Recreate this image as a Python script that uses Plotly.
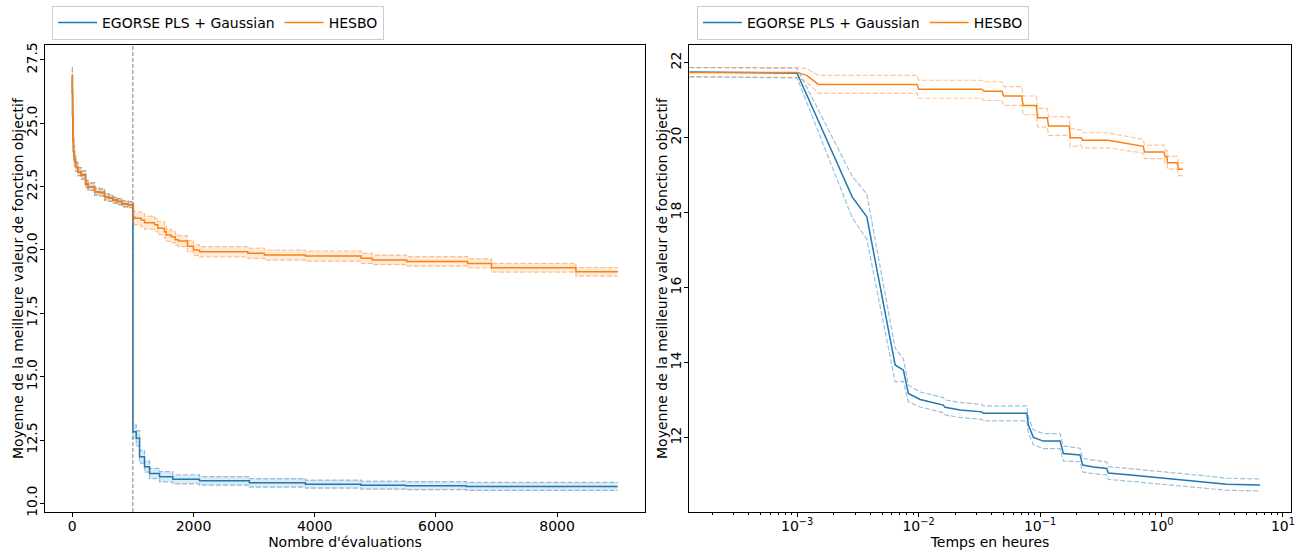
import numpy as np
import plotly.graph_objects as go

BLUE = "#1f77b4"
ORANGE = "#ff7f0e"

# ---------- Left panel: best objective vs number of evaluations ----------
# shared initial design phase (both methods), evaluations 0..~1000
evals_init = [0, 2, 5, 10, 20, 35, 54, 92, 148, 219, 260, 368, 450, 533, 600, 669, 740, 824, 920]
mean_init = [26.9, 26.2, 25.3, 24.4, 23.9, 23.55, 23.29, 23.09, 22.96, 22.6, 22.5, 22.3, 22.27,
             22.1, 22.05, 21.97, 21.91, 21.82, 21.79]
std_init = [0.3, 0.28, 0.26, 0.24, 0.22, 0.2, 0.18, 0.16, 0.16, 0.15, 0.15, 0.14, 0.14,
            0.13, 0.13, 0.12, 0.12, 0.12, 0.12]

egorse_evals = [1000, 1055, 1110, 1192, 1275, 1440, 1659, 2099, 2923, 3847, 4765, 5500, 6500, 9000]
egorse_mean = [12.83, 12.57, 11.84, 11.45, 11.18, 11.05, 10.95, 10.89, 10.81, 10.76, 10.72, 10.70, 10.67, 10.67]
egorse_std = [0.28, 0.3, 0.25, 0.22, 0.2, 0.2, 0.18, 0.17, 0.17, 0.16, 0.16, 0.16, 0.16, 0.16]

hesbo_evals = [1000, 1010, 1028, 1138, 1192, 1357, 1411, 1522, 1550, 1632, 1700, 1750, 1900, 2000,
               2100, 2896, 3171, 3847, 4765, 4950, 5517, 6523, 6918, 8310, 9000]
hesbo_mean = [21.78, 21.3, 21.25, 21.18, 21.08, 21.0, 20.86, 20.72, 20.59, 20.52, 20.4, 20.35, 20.15,
              20.0, 19.93, 19.87, 19.80, 19.76, 19.67, 19.61, 19.55, 19.47, 19.30, 19.14, 19.14]
hesbo_std = [0.12, 0.24, 0.26, 0.26, 0.26, 0.25, 0.25, 0.24, 0.24, 0.23, 0.22, 0.22, 0.22, 0.21,
             0.2, 0.2, 0.2, 0.2, 0.2, 0.19, 0.19, 0.18, 0.17, 0.17, 0.17]

doe_size = 1000

# ---------- Right panel: best objective vs wall time (hours) ----------
egorse_hours = [1.3e-4, 1.0e-3, 2.84e-3, 3.75e-3, 6.41e-3, 7.50e-3, 8.24e-3, 1.03e-2, 1.60e-2, 1.65e-2,
                2.20e-2, 3.31e-2, 3.41e-2, 7.78e-2, 8.02e-2, 8.81e-2, 0.1064, 0.1462, 0.1556, 0.2133,
                0.2244, 0.2748, 0.354, 0.365, 0.586, 1.175, 2.355, 3.443, 6.47]
egorse_tmean = [21.75, 21.72, 18.42, 17.89, 13.94, 13.80, 13.18, 13.02, 12.87, 12.81,
                12.74, 12.69, 12.65, 12.65, 12.34, 12.01, 11.91, 11.91, 11.58, 11.54,
                11.27, 11.22, 11.18, 11.06, 11.0, 10.91, 10.82, 10.76, 10.74]
egorse_tstd = [0.12, 0.13, 0.55, 0.6, 0.45, 0.3, 0.22, 0.2, 0.2, 0.2,
               0.2, 0.2, 0.2, 0.2, 0.2, 0.2, 0.2, 0.2, 0.2, 0.18,
               0.18, 0.18, 0.17, 0.17, 0.17, 0.17, 0.16, 0.16, 0.16]

hesbo_hours = [1.3e-4, 1.0e-3, 1.2e-3, 1.5e-3, 9.73e-3, 1.0e-2, 3.31e-2, 3.47e-2, 4.86e-2, 5.01e-2,
               7.08e-2, 7.24e-2, 9.33e-2, 9.55e-2, 0.1148, 0.1175, 0.1738, 0.1778, 0.2188, 0.2239,
               0.363, 0.708, 0.724, 1.047, 1.072, 1.109, 1.122, 1.349, 1.380, 1.503]
hesbo_tmean = [21.74, 21.74, 21.66, 21.42, 21.42, 21.29, 21.29, 21.24, 21.24, 21.11,
               21.11, 20.86, 20.86, 20.53, 20.53, 20.31, 20.31, 20.0, 20.0, 19.93,
               19.93, 19.77, 19.62, 19.62, 19.49, 19.49, 19.33, 19.33, 19.16, 19.16]
hesbo_tstd = [0.13, 0.13, 0.18, 0.24, 0.24, 0.24, 0.24, 0.25, 0.25, 0.25,
              0.25, 0.25, 0.25, 0.25, 0.25, 0.25, 0.25, 0.25, 0.2, 0.2,
              0.2, 0.18, 0.18, 0.18, 0.17, 0.17, 0.17, 0.17, 0.17, 0.17]

labels = ["EGORSE PLS + Gaussian", "HESBO"]
y_title = "Moyenne de la meilleure valeur de fonction objectif"


def rgba(hex_color, a):
    h = hex_color.lstrip("#")
    r, g, b = int(h[0:2], 16), int(h[2:4], 16), int(h[4:6], 16)
    return f"rgba({r},{g},{b},{a})"


fig = go.Figure()


def add_series(x, mean, std, color, name, xaxis, yaxis, legend, shape, fill):
    mean = np.asarray(mean, float)
    std = np.asarray(std, float)
    band_line = dict(color=rgba(color, 0.45), width=1.2, dash="5px,2px", shape=shape)
    fig.add_trace(go.Scatter(x=x, y=mean + std, mode="lines", line=band_line,
                             showlegend=False, hoverinfo="skip", xaxis=xaxis, yaxis=yaxis))
    fig.add_trace(go.Scatter(x=x, y=mean - std, mode="lines", line=band_line,
                             fill="tonexty" if fill else None,
                             fillcolor=rgba(color, 0.15) if fill else None,
                             showlegend=False, hoverinfo="skip", xaxis=xaxis, yaxis=yaxis))
    fig.add_trace(go.Scatter(x=x, y=mean, mode="lines", name=name,
                             line=dict(color=color, width=1.5, shape=shape),
                             legend=legend, xaxis=xaxis, yaxis=yaxis))


# left panel
add_series(evals_init + egorse_evals, mean_init + egorse_mean, std_init + egorse_std,
           BLUE, labels[0], "x", "y", "legend", "hv", True)
add_series(evals_init + hesbo_evals, mean_init + hesbo_mean, std_init + hesbo_std,
           ORANGE, labels[1], "x", "y", "legend", "hv", True)

# right panel
add_series(egorse_hours, egorse_tmean, egorse_tstd, BLUE, labels[0], "x2", "y2", "legend2", "linear", False)
add_series(hesbo_hours, hesbo_tmean, hesbo_tstd, ORANGE, labels[1], "x2", "y2", "legend2", "linear", False)

# end of initial design of experiments
fig.add_shape(type="line", x0=doe_size, x1=doe_size, y0=0, y1=1, xref="x", yref="y domain",
              line=dict(color="#7f7f7f", width=1, dash="4px,2px"))

font = dict(family="DejaVu Sans", size=14, color="black")
axis_common = dict(showline=True, linecolor="black", linewidth=1, mirror=True, ticks="outside",
                   ticklen=4, tickwidth=1, tickcolor="black", showgrid=False, zeroline=False,
                   automargin=False, tickfont=font, ticklabelstandoff=-3)

minor_vals = [m * 10.0 ** d for d in range(-4, 2) for m in range(2, 10)]

# vertical axis titles
for xpos in (18, 662):
    fig.add_annotation(text=y_title, textangle=-90, x=xpos / 1296, y=(550 - 278) / 550,
                       xref="paper", yref="paper", xanchor="center", yanchor="middle",
                       showarrow=False, font=font)

legend_style = dict(orientation="h", yanchor="top", xanchor="left", y=544 / 550,
                    bgcolor="white", bordercolor="#cccccc", borderwidth=1, font=font,
                    traceorder="normal", itemwidth=39)

fig.update_layout(
    width=1296, height=550,
    margin=dict(l=0, r=0, t=0, b=0),
    paper_bgcolor="white", plot_bgcolor="white",
    font=font,
    xaxis=dict(domain=[45 / 1296, 645 / 1296], anchor="y", range=[-450, 9450],
               tick0=0, dtick=2000,
               title=dict(text="Nombre d'évaluations", font=font, standoff=1), **axis_common),
    yaxis=dict(domain=[38 / 550, 505 / 550], anchor="x", range=[9.66, 28.09],
               tick0=10, dtick=2.5, tickformat=".1f", tickangle=-90, **axis_common),
    xaxis2=dict(domain=[689 / 1296, 1291 / 1296], anchor="y2", type="log", range=[-3.89, 1.066],
                tickvals=[1e-3, 1e-2, 1e-1, 1, 10],
                ticktext=["10<sup>−3</sup>", "10<sup>−2</sup>", "10<sup>−1</sup>", "10<sup>0</sup>", "10<sup>1</sup>"],
                minor=dict(tickvals=minor_vals, ticks="outside", ticklen=2, tickcolor="black", showgrid=False),
                title=dict(text="Temps en heures", font=font, standoff=1), **axis_common),
    yaxis2=dict(domain=[38 / 550, 505 / 550], anchor="x2", range=[10.02, 22.47],
                tick0=12, dtick=2, tickangle=-90, **axis_common),
    legend=dict(x=52 / 1296, **legend_style),
    legend2=dict(x=697 / 1296, **legend_style),
)

fig.write_html("out.html")
